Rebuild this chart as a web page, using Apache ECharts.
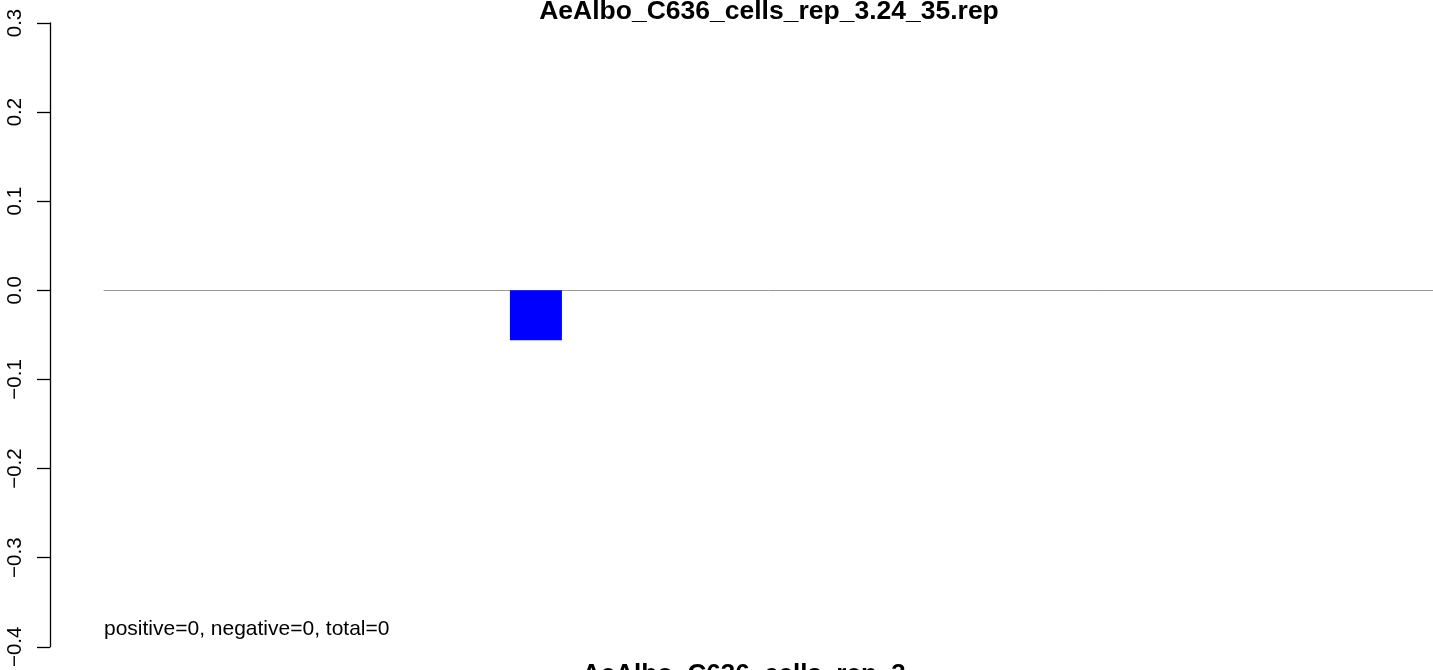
<!DOCTYPE html>
<html>
<head>
<meta charset="utf-8">
<script src="https://cdn.jsdelivr.net/npm/echarts@6/dist/echarts.min.js"></script>
<style>
html,body{margin:0;padding:0;background:#fff;}
#chart{width:1433px;height:670px;}
</style>
</head>
<body>
<div id="chart"></div>
<script>
// ---- data ----
var titleText = "AeAlbo_C636_cells_rep_3.24_35.rep";
var xLabelText = "AeAlbo_C636_cells_rep_3";
var noteText = "positive=0, negative=0, total=0";
var categories = ["1","2","3","4","5","6","7","8","9","10","11","12","13","14","15","16","17","18","19","20"];
var values = [0, 0, 0, 0, 0, 0, -0.056, 0, 0, 0, 0, 0, 0, 0, 0, 0, 0, 0, 0, 0];
var yMin = -0.4, yMax = 0.3, yStep = 0.1;

var FONT = "'Liberation Sans', Arial, Helvetica, sans-serif";
var chart = echarts.init(document.getElementById('chart'), null, {renderer: 'canvas'});
chart.setOption({
  animation: false,
  backgroundColor: '#ffffff',
  title: {
    text: titleText,
    left: 769, top: -2, textAlign: 'center', padding: 0,
    textStyle: {fontFamily: FONT, fontWeight: 'bold', fontSize: 26.5, color: '#000'}
  },
  grid: {left: 104, right: -12, top: 23, bottom: 22, containLabel: false},
  xAxis: {
    type: 'category', data: categories,
    axisLine: {show: true, onZero: true, lineStyle: {color: '#999999', width: 1}},
    axisTick: {show: false}, axisLabel: {show: false}, splitLine: {show: false}
  },
  yAxis: {
    type: 'value', min: yMin, max: yMax, interval: yStep, offset: 54,
    axisLine: {show: true, lineStyle: {color: '#000', width: 1.3}},
    axisTick: {show: true, length: 13, lineStyle: {color: '#000', width: 1.3}},
    splitLine: {show: false},
    axisLabel: {
      rotate: 90, margin: 24, color: '#000', fontFamily: FONT, fontSize: 20.5,
      showMinLabel: true, showMaxLabel: true,
      formatter: function (v) { return v.toFixed(1).replace('-', '\u2212'); }
    }
  },
  series: [{
    type: 'bar', data: values, barWidth: 52,
    itemStyle: {color: '#0000ff'}
  }],
  graphic: [
    {type: 'text', left: 104, top: 619,
     style: {text: noteText, fontFamily: FONT, fontSize: 21, fill: '#000'}},
    {type: 'text', left: 582, top: 662,
     style: {text: xLabelText, fontFamily: FONT, fontSize: 26, fontWeight: 'bold', fill: '#000'}}
  ]
});
</script>
</body>
</html>
